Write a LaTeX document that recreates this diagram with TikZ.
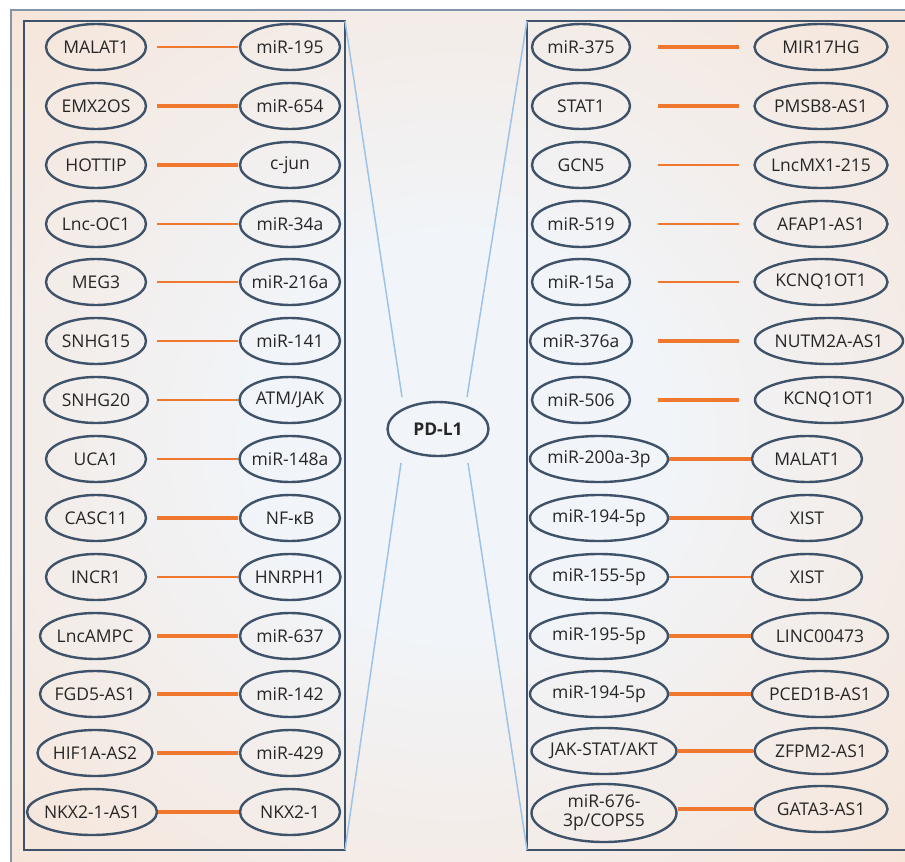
\documentclass[tikz,border=0pt]{standalone}
\usepackage{fontspec}
\setmainfont{Open Sans}
\usetikzlibrary{shapes.geometric,calc}
\definecolor{bgin}{HTML}{F1F4F8}
\definecolor{bgout}{HTML}{F8DFCC}
\definecolor{framec}{HTML}{8494A8}
\definecolor{boxc}{HTML}{3E5269}
\definecolor{elc}{HTML}{3E5269}
\definecolor{orl}{HTML}{F0782E}
\definecolor{bll}{HTML}{9DC4E8}
\pgfdeclareradialshading{bgshade}{\pgfpoint{0bp}{0bp}}{color(0bp)=(bgin); color(12bp)=(bgin); color(46bp)=(bgout); color(50bp)=(bgout)}
\newcommand\ctx[1]{\makebox[0pt]{#1}}
\begin{document}
\begin{tikzpicture}[x=1pt,y=-1pt,
  font=\fontsize{17.5}{20}\selectfont,
  el/.style={ellipse, draw=elc, line width=2.4pt, minimum height=46, minimum width=#1, inner sep=0pt, text=black!85},
  thinl/.style={orl, line width=2.8pt},
  thickl/.style={orl, line width=3.8pt},
  blue line/.style={bll, line width=1.5pt}]
\useasboundingbox (0,0) rectangle (905,862);
\clip (0,0) rectangle (905,862);
\fill[white] (0,0) rectangle (905,862);
\shade[shading=bgshade] (11,10) rectangle (905,862);
\draw[framec, line width=1.8pt] (11,10) rectangle (915,875);
\draw[boxc, line width=2.2pt] (24,21) rectangle (345,850);
\draw[boxc, line width=2.2pt] (527,21) rectangle (925,850);
% line end coordinates
\coordinate (lx1) at (157,0);
\coordinate (lx2) at (238,0);
\coordinate (rx1) at (658,0);
\coordinate (rx2) at (739,0);
% box corners and spoke ends
\coordinate (LTR) at (345,21);
\coordinate (LBR) at (345,850);
\coordinate (RTL) at (527,21);
\coordinate (RBL) at (527,850);
\coordinate (s1) at (402,397);
\coordinate (s2) at (467,397);
\coordinate (s3) at (401,463);
\coordinate (s4) at (468,463);
\draw[blue line] (LTR) -- (s1);
\draw[blue line] (RTL) -- (s2);
\draw[blue line] (LBR) -- (s3);
\draw[blue line] (RBL) -- (s4);
\node[el=101, minimum height=54, font=\fontsize{17.5}{20}\selectfont\bfseries] (pd) at (438,429) {\ctx{PD-L1}};
% ---------- left box ----------
\node[el=100] (L1a) at (96,47) {\ctx{MALAT1}};
\node[el=100] (L1b) at (290,47) {\ctx{miR-195}};
\draw[thinl] (L1a -| lx1) -- (L1b -| lx2);
\node[el=100] (L2a) at (96,106) {\ctx{EMX2OS}};
\node[el=100] (L2b) at (290,106) {\ctx{miR-654}};
\draw[thickl] (L2a -| lx1) -- (L2b -| lx2);
\node[el=100] (L3a) at (96,165) {\ctx{HOTTIP}};
\node[el=100] (L3b) at (290,165) {\ctx{c-jun}};
\draw[thickl] (L3a -| lx1) -- (L3b -| lx2);
\node[el=100] (L4a) at (96,224) {\ctx{Lnc-OC1}};
\node[el=100] (L4b) at (290,224) {\ctx{miR-34a}};
\draw[thinl] (L4a -| lx1) -- (L4b -| lx2);
\node[el=100] (L5a) at (96,282) {\ctx{MEG3}};
\node[el=100] (L5b) at (290,282) {\ctx{miR-216a}};
\draw[thinl] (L5a -| lx1) -- (L5b -| lx2);
\node[el=100] (L6a) at (96,341) {\ctx{SNHG15}};
\node[el=100] (L6b) at (290,341) {\ctx{miR-141}};
\draw[thinl] (L6a -| lx1) -- (L6b -| lx2);
\node[el=104] (L7a) at (96,400) {\ctx{SNHG20}};
\node[el=101] (L7b) at (290,400) {\ctx{ATM/JAK}};
\draw[thinl] (L7a -| lx1) -- (L7b -| lx2);
\node[el=100] (L8a) at (96,459) {\ctx{UCA1}};
\node[el=101] (L8b) at (290,459) {\ctx{miR-148a}};
\draw[thinl] (L8a -| lx1) -- (L8b -| lx2);
\node[el=100] (L9a) at (96,518) {\ctx{CASC11}};
\node[el=100] (L9b) at (290,518) {\ctx{NF-κB}};
\draw[thickl] (L9a -| lx1) -- (L9b -| lx2);
\node[el=100] (L10a) at (96,577) {\ctx{INCR1}};
\node[el=101] (L10b) at (290,577) {\ctx{HNRPH1}};
\draw[thinl] (L10a -| lx1) -- (L10b -| lx2);
\node[el=110] (L11a) at (95,636) {\ctx{LncAMPC}};
\node[el=100] (L11b) at (290,636) {\ctx{miR-637}};
\draw[thickl] (L11a -| lx1) -- (L11b -| lx2);
\node[el=110] (L12a) at (95,694) {\ctx{FGD5-AS1}};
\node[el=100] (L12b) at (290,694) {\ctx{miR-142}};
\draw[orl, line width=4.4pt] (L12a -| lx1) -- (L12b -| lx2);
\node[el=115] (L13a) at (95,753) {\ctx{HIF1A-AS2}};
\node[el=100] (L13b) at (290,753) {\ctx{miR-429}};
\draw[thickl] (L13a -| lx1) -- (L13b -| lx2);
\node[el=130] (L14a) at (92,812) {\ctx{NKX2-1-AS1}};
\node[el=100] (L14b) at (290,812) {\ctx{NKX2-1}};
\draw[thickl] (L14a.east) -- (L14b.west);
% ---------- right box ----------
\node[el=98] (R1a) at (581,47) {\ctx{miR-375}};
\node[el=133] (R1b) at (821,47) {\ctx{MIR17HG}};
\draw[thickl] (R1a -| rx1) -- (R1b -| rx2);
\node[el=98] (R2a) at (581,106) {\ctx{STAT1}};
\node[el=133] (R2b) at (821,106) {\ctx{PMSB8-AS1}};
\draw[thickl] (R2a -| rx1) -- (R2b -| rx2);
\node[el=98] (R3a) at (581,165) {\ctx{GCN5}};
\node[el=133] (R3b) at (821,165) {\ctx{LncMX1-215}};
\draw[thinl] (R3a -| rx1) -- (R3b -| rx2);
\node[el=98] (R4a) at (581,224) {\ctx{miR-519}};
\node[el=133] (R4b) at (821,224) {\ctx{AFAP1-AS1}};
\draw[thinl] (R4a -| rx1) -- (R4b -| rx2);
\node[el=98] (R5a) at (581,282) {\ctx{miR-15a}};
\node[el=133] (R5b) at (821,282) {\ctx{KCNQ1OT1}};
\draw[thinl] (R5a -| rx1) -- (R5b -| rx2);
\node[el=102] (R6a) at (581,341) {\ctx{miR-376a}};
\node[el=148] (R6b) at (829,341) {\ctx{NUTM2A-AS1}};
\draw[thickl] (R6a -| rx1) -- (R6b -| rx2);
\node[el=98] (R7a) at (581,400) {\ctx{miR-506}};
\node[el=148] (R7b) at (829,400) {\ctx{KCNQ1OT1}};
\draw[thickl] (R7a -| rx1) -- (R7b -| rx2);
\node[el=138] (R8a) at (599,459) {\ctx{miR-200a-3p}};
\node[el=110] (R8b) at (807,459) {\ctx{MALAT1}};
\draw[thickl] (R8a.east) -- (R8b.west);
\node[el=138] (R9a) at (599,518) {\ctx{miR-194-5p}};
\node[el=110] (R9b) at (807,518) {\ctx{XIST}};
\draw[thickl] (R9a.east) -- (R9b.west);
\node[el=138] (R10a) at (599,577) {\ctx{miR-155-5p}};
\node[el=110] (R10b) at (807,577) {\ctx{XIST}};
\draw[thinl] (R10a.east) -- (R10b.west);
\node[el=138] (R11a) at (599,636) {\ctx{miR-195-5p}};
\node[el=136] (R11b) at (820,636) {\ctx{LINC00473}};
\draw[thickl] (R11a.east) -- (R11b.west);
\node[el=138] (R12a) at (599,694) {\ctx{miR-194-5p}};
\node[el=136] (R12b) at (820,694) {\ctx{PCED1B-AS1}};
\draw[thickl] (R12a.east) -- (R12b.west);
\node[el=145] (R13a) at (604,751) {\ctx{JAK-STAT/AKT}};
\node[el=133] (R13b) at (821,751) {\ctx{ZFPM2-AS1}};
\draw[thickl] (R13a.east) -- (R13b.west);
\node[el=145, minimum height=58] (R14a) at (604,813) {\ctx{\begin{tabular}{@{}c@{}}miR-676-\\[-1pt]3p/COPS5\end{tabular}}};
\node[el=133] (R14b) at (821,809) {\ctx{GATA3-AS1}};
\draw[thickl] (R14a.east |- R14b) -- (R14b.west);
\end{tikzpicture}
\end{document}
